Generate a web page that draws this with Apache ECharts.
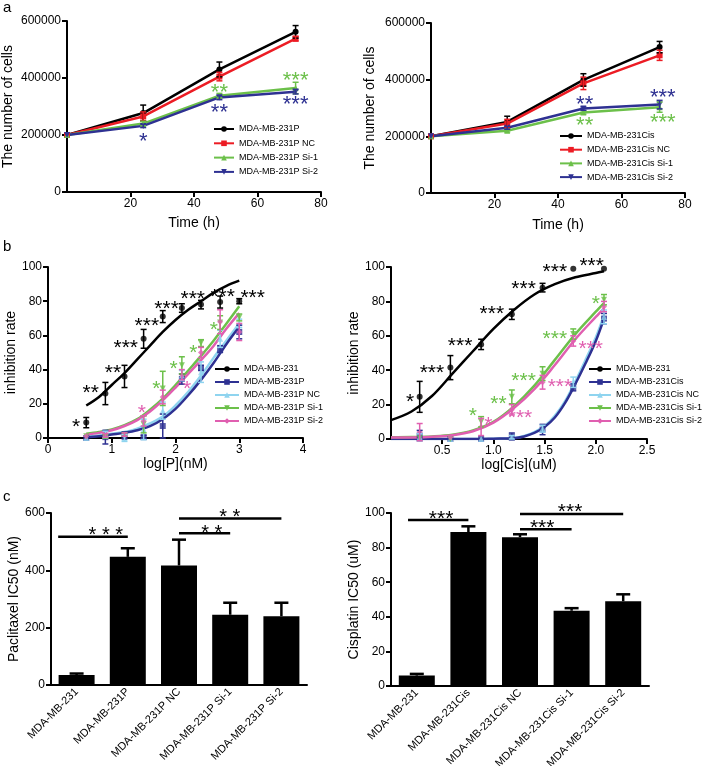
<!DOCTYPE html>
<html><head><meta charset="utf-8">
<script src="https://cdn.jsdelivr.net/npm/echarts@6/dist/echarts.min.js"></script>
<style>html,body{margin:0;padding:0;background:#fff}#c{width:709px;height:766px}</style>
</head><body><div id="c"></div>
<script>
// ---------------- DATA ----------------
// Panel a (left): growth, MDA-MB-231P
const timeH = [0, 24, 48, 72];
const aL_names = ['MDA-MB-231P', 'MDA-MB-231P NC', 'MDA-MB-231P Si-1', 'MDA-MB-231P Si-2'];
const aL_231P   = [200000, 277000, 430000, 562000];
const aL_231P_e = [0, 28000, 26000, 22000];
const aL_NC     = [200000, 265000, 405000, 538000];
const aL_NC_e   = [0, 16000, 15000, 8000];
const aL_Si1    = [200000, 240000, 338000, 365000];
const aL_Si1_e  = [0, 8000, 8000, 20000];
const aL_Si2    = [200000, 232000, 332000, 352000];
const aL_Si2_e  = [0, 6000, 8000, 8000];
const aL_starsG = [[48, 365000, '**'], [72, 407000, '***']];
const aL_starsB = [[24, 193000, '*'], [48, 295000, '**'], [72, 323000, '***']];

// Panel a (right): growth, MDA-MB-231Cis
const aR_names = ['MDA-MB-231Cis', 'MDA-MB-231Cis NC', 'MDA-MB-231Cis Si-1', 'MDA-MB-231Cis Si-2'];
const aR_231C   = [200000, 251000, 399000, 515000];
const aR_231C_e = [0, 20000, 22000, 20000];
const aR_NC     = [200000, 245000, 387000, 486000];
const aR_NC_e   = [0, 15000, 22000, 18000];
const aR_Si1    = [200000, 220000, 284000, 303000];
const aR_Si1_e  = [0, 5000, 6000, 18000];
const aR_Si2    = [200000, 230000, 298000, 312000];
const aR_Si2_e  = [0, 5000, 6000, 15000];
const aR_starsB = [[48.4, 327000, '**'], [73, 353000, '***']];
const aR_starsG = [[48.4, 255000, '**'], [73, 266000, '***']];

// Panel b (left): inhibition vs log[P]
const bL_names = ['MDA-MB-231', 'MDA-MB-231P', 'MDA-MB-231P NC', 'MDA-MB-231P Si-1', 'MDA-MB-231P Si-2'];
const bL_x      = [0.6, 0.9, 1.2, 1.5, 1.8, 2.1, 2.4, 2.7, 3.0];
const bL_231    = [9, 26, 36, 58, 71, 76, 78, 79.5, 80];
const bL_231_e  = [3, 6.5, 6.5, 5.5, 3.5, 2.5, 2.5, 3.5, 1.5];
const bL_231P   = [0, 0.5, 1.5, 0.5, 7, 34.5, 41, 52, 62];
const bL_231P_e = [0, 4, 2, 1, 7, 3, 1.5, 2, 4];
const bL_NC     = [0, 2, 0, 5, 16, 36.5, 38.5, 58, 67];
const bL_NC_e   = [0, 2, 2, 6, 5, 3, 6, 5, 2.5];
const bL_Si1    = [1, 1, 2, 8, 29, 42.5, 55.5, 67.5, 70.5];
const bL_Si1_e  = [0, 1, 1, 5, 10, 5, 2, 4, 2];
const bL_Si2    = [1, 1.5, 2, 10, 24, 37, 50, 68, 62];
const bL_Si2_e  = [0, 1, 1, 3, 4, 3, 3, 7, 5];
const bL_fitX    = [0.6, 0.8, 1.0, 1.2, 1.4, 1.6, 1.8, 2.0, 2.2, 2.4, 2.6, 2.8, 3.0];
const bL_231_fit = [19, 24, 31, 38, 46, 54, 62, 69, 75, 80, 85, 89, 92];
const bL_231P_fit= [0.5, 1, 2, 3, 4.5, 7, 11, 17, 25, 34, 44, 55, 65];
const bL_NC_fit  = [1, 1.5, 2.5, 3.5, 5.5, 8.5, 12.5, 19, 27, 36.5, 47, 57, 67];
const bL_Si1_fit = [2.5, 3.5, 5, 7.5, 11, 16.5, 23, 31, 39.5, 48, 57, 67, 77];
const bL_Si2_fit = [2, 3, 4.5, 7, 10.5, 15.5, 22, 29.5, 37.5, 45.5, 54, 64, 73];
const bL_starsK = [[0.44, 8.8, '*'], [0.67, 29, '**'], [1.02, 40.7, '**'], [1.22, 55.5, '***'], [1.55, 68, '***'],
                   [1.86, 78, '***'], [2.27, 84, '***'], [2.74, 85, '***'], [3.21, 84.5, '***']];
const bL_starsG = [[1.70, 31.5, '*'], [1.97, 43, '*'], [2.28, 52, '*'], [2.6, 65.6, '*']];
const bL_starsP = [[1.47, 17, '*'], [2.18, 31, '*']];

// Panel b (right): inhibition vs log[Cis]
const bR_names = ['MDA-MB-231', 'MDA-MB-231Cis', 'MDA-MB-231Cis NC', 'MDA-MB-231Cis Si-1', 'MDA-MB-231Cis Si-2'];
const bR_x      = [0.28, 0.58, 0.88, 1.18, 1.48, 1.78, 2.08];
const bR_231    = [24.5, 41.5, 55, 72.5, 88, 99, 99];
const bR_231_e  = [9, 7, 3, 3, 2.5, 0, 0];
const bR_Cis    = [2, 0, 0, 1.5, 5.5, 30, 70];
const bR_Cis_e  = [3, 0, 0, 2, 3, 2, 3];
const bR_NC     = [1, 0, 0, 1, 6, 33, 71];
const bR_NC_e   = [2, 0, 0, 1, 2, 3, 4];
const bR_Si1    = [0.5, 0, 10, 24.5, 38, 61, 81];
const bR_Si1_e  = [0, 0, 3, 4, 4, 3, 3];
const bR_Si2    = [4, 1, 7, 17, 33, 57, 77];
const bR_Si2_e  = [5, 0, 5, 3, 4, 3, 3];
const bR_fitX    = [0, 0.2, 0.4, 0.6, 0.8, 1.0, 1.2, 1.4, 1.6, 1.8, 2.0, 2.08];
const bR_231_fit = [11, 16, 25, 38, 51, 64, 75, 84, 90, 94, 96.5, 97.5];
const bR_Si1_fit = [1, 1.1, 1.5, 2.5, 5, 10, 19, 31, 46, 61, 74, 79];
const bR_Si2_fit = [0.8, 0.9, 1.3, 2.2, 4.5, 9.5, 18, 29, 43, 58, 71, 76];
const bR_cisFitX = [0, 0.4, 0.8, 1.0, 1.2, 1.3, 1.4, 1.5, 1.6, 1.7, 1.8, 1.9, 2.0, 2.08];
const bR_Cis_fit = [0, 0, 0, 0.2, 0.5, 1.5, 3.5, 7, 12.5, 21, 32, 44, 57, 70];
const bR_NC_fit  = [0, 0, 0, 0.2, 0.6, 1.7, 4, 7.5, 13.5, 22, 33.5, 46, 59, 72];
const bR_starsK = [[0.186, 24, '*'], [0.40, 41, '***'], [0.675, 56.6, '***'], [0.985, 75, '***'],
                   [1.295, 89.5, '***'], [1.6, 99.8, '***'], [1.96, 103, '***']];
const bR_starsG = [[0.8, 15.9, '*'], [1.05, 22.7, '**'], [1.295, 36, '***'], [1.6, 60.5, '***'], [2.0, 81, '*']];
const bR_starsP = [[0.95, 10.5, '*'], [1.26, 15, '***'], [1.65, 33, '***'], [1.95, 54.7, '***']];

// Panel c (left): Paclitaxel IC50
const cL_cats = ['MDA-MB-231', 'MDA-MB-231P', 'MDA-MB-231P NC', 'MDA-MB-231P Si-1', 'MDA-MB-231P Si-2'];
const cL_vals = [35, 447, 417, 245, 240];
const cL_err  = [5, 30, 90, 42, 47];
const cL_sig  = [[-0.36, 1, 517], [2, 3, 529], [2, 4, 581]];
const cL_sigStars = [[0.57, 537, '* * *'], [2.64, 545, '* *'], [2.99, 599, '* *']];

// Panel c (right): Cisplatin IC50
const cR_cats = ['MDA-MB-231', 'MDA-MB-231Cis', 'MDA-MB-231Cis NC', 'MDA-MB-231Cis Si-1', 'MDA-MB-231Cis Si-2'];
const cR_vals = [6, 89, 86, 43.5, 49];
const cR_err  = [1, 3.3, 1.7, 1.5, 4];
const cR_sig  = [[-0.17, 1, 96], [2, 3, 90.6], [2, 4, 99.4]];
const cR_sigStars = [[0.47, 98.8, '***'], [2.43, 94, '***'], [2.97, 103, '***']];

// ---------------- STYLE ----------------
const COL = {k:'#000000', r:'#ec1c24', g:'#6cc04a', b:'#2e3192', lb:'#8fd4ef', p:'#e05fb0'};
const FONT = '"Liberation Sans", Arial, Helvetica, sans-serif';
const LFONT = '"Liberation Sans Narrow", "Liberation Sans", Arial, sans-serif';
const ZW = ['', '', '\u200b', '\u200b\u200b'];

function pts(xs, ys){ return xs.map((x, i) => [x, ys[i]]); }
function ptsE(xs, ys, es){ return xs.map((x, i) => [x, ys[i], es[i]]); }

function mkAxis(o){
  return {
    type: o.type || 'value', gridIndex: o.gi,
    min: o.min, max: o.max, interval: o.interval, data: o.data,
    name: o.name, nameLocation: 'middle', nameGap: o.nameGap, nameRotate: o.nameRotate,
    nameTextStyle: {color:'#000', fontSize:14, fontFamily:FONT},
    axisLine: {show:true, onZero:false, lineStyle:{color:'#000', width:2}},
    axisTick: {show: o.tick !== false, length:5, lineStyle:{color:'#000', width:2}},
    axisLabel: {show:true, color:'#000', fontSize:o.fontSize || 12, fontFamily:FONT, margin:o.margin || 6,
      showMinLabel: o.showMin, formatter: o.fmt, rotate: o.rotate || 0, interval: 0},
    splitLine: {show:false},
    boundaryGap: o.type === 'category' ? true : undefined
  };
}

function lineS(gi, name, data, color, symbol, rot){
  return {type:'line', name, xAxisIndex:gi, yAxisIndex:gi, data, color,
    symbol, symbolRotate: rot || 0, symbolSize:6, showSymbol:true,
    lineStyle:{color, width:2.5}, itemStyle:{color}, z:3, silent:true};
}
function fitS(gi, name, data, color, symbol, rot, z){
  return {type:'line', name, xAxisIndex:gi, yAxisIndex:gi, data, color, smooth:0.35,
    symbol, symbolRotate: rot || 0, symbolSize:6, showSymbol:false,
    lineStyle:{color, width:2.5}, itemStyle:{color}, z: z || 2, silent:true};
}
function scatS(gi, name, data, color, symbol, rot){
  return {type:'scatter', name: name + ' pts', xAxisIndex:gi, yAxisIndex:gi, data, color,
    symbol, symbolRotate: rot || 0, symbolSize:6, itemStyle:{color}, z:4, silent:true};
}
function errS(gi, data, color, opts){
  opts = opts || {};
  const cap = opts.cap || 3, lw = opts.lw || 1.5, upOnly = !!opts.upOnly;
  return {type:'custom', xAxisIndex:gi, yAxisIndex:gi, z:opts.z || 5, silent:true, clip:false,
    data, encode:{x:0, y:1},
    renderItem(params, api){
      const x = api.value(0), y = api.value(1), e = api.value(2);
      if (!e) return null;
      const t = api.coord([x, y + e]);
      const b = upOnly ? api.coord([x, y]) : api.coord([x, y - e]);
      const st = {stroke:color, lineWidth:lw};
      const ch = [
        {type:'line', shape:{x1:t[0], y1:t[1], x2:b[0], y2:b[1]}, style:st},
        {type:'line', shape:{x1:t[0] - cap, y1:t[1], x2:t[0] + cap, y2:t[1]}, style:st}];
      if (!upOnly) ch.push({type:'line', shape:{x1:b[0] - cap, y1:b[1], x2:b[0] + cap, y2:b[1]}, style:st});
      return {type:'group', children:ch};
    }};
}
function catCoord(api, x, y){
  const r = Math.round(x);
  const p = api.coord([r, y]);
  p[0] += (x - r) * api.size([1, 0])[0];
  return p;
}
function textS(gi, items, color, fs, isCat){
  return {type:'custom', xAxisIndex:gi, yAxisIndex:gi, z:10, silent:true, clip:false,
    data: items.map(d => [isCat ? Math.round(d[0]) : d[0], d[1]]), encode:{x:0, y:1},
    renderItem(params, api){
      const d = items[params.dataIndex];
      const p = isCat ? catCoord(api, d[0], d[1]) : api.coord([d[0], d[1]]);
      return {type:'text', x:p[0], y:p[1] + fs * 0.22,
        style:{text:d[2], fill:color, font: fs + 'px ' + FONT, align:'center', verticalAlign:'middle'}};
    }};
}
function sigS(gi, items){
  return {type:'custom', xAxisIndex:gi, yAxisIndex:gi, z:10, silent:true, clip:false,
    data: items.map(d => [Math.round(d[0]), d[2]]), encode:{x:0, y:1},
    renderItem(params, api){
      const d = items[params.dataIndex];
      const a = catCoord(api, d[0], d[2]), b = catCoord(api, d[1], d[2]);
      return {type:'line', shape:{x1:a[0], y1:a[1], x2:b[0], y2:b[1]}, style:{stroke:'#000', lineWidth:2.5}};
    }};
}
function legendL(names, left, top, itemWidth, gap){
  return {data: names, left, top, orient:'vertical', itemWidth, itemHeight:7, itemGap:gap, padding:0,
    selectedMode:false, formatter: n => n.replace(/\u200b/g, ''),
    textStyle:{fontSize:9, fontFamily:LFONT, color:'#000', lineHeight:10}};
}

// ---------------- OPTION ----------------
const grids = [
  {left:67, top:21, width:254, height:171},
  {left:431, top:23, width:254, height:170},
  {left:48, top:267, width:255, height:171},
  {left:391, top:267, width:256, height:172},
  {left:51, top:513, width:256, height:172},
  {left:391, top:513, width:258, height:173}
].map(g => Object.assign({outerBoundsMode:'none', containLabel:false}, g));

const plain = v => String(v);
const xAxes = [
  mkAxis({gi:0, min:0, max:80, interval:20, name:'Time (h)', nameGap:24, showMin:false}),
  mkAxis({gi:1, min:0, max:80, interval:20, name:'Time (h)', nameGap:25, showMin:false}),
  mkAxis({gi:2, min:0, max:4, interval:1, name:'log[P](nM)', nameGap:18, showMin:true}),
  mkAxis({gi:3, min:0, max:2.5, interval:0.5, name:'log[Cis](uM)', nameGap:16, showMin:false, fmt: v => v.toFixed(1)}),
  mkAxis({gi:4, type:'category', data:cL_cats, tick:false, rotate:45, fontSize:11, margin:5}),
  mkAxis({gi:5, type:'category', data:cR_cats, tick:false, rotate:45, fontSize:11, margin:5})
];
const yAxes = [
  mkAxis({gi:0, min:0, max:600000, interval:200000, name:'The number of cells', nameGap:52, nameRotate:90, fmt:plain, showMin:true}),
  mkAxis({gi:1, min:0, max:600000, interval:200000, name:'The number of cells', nameGap:54, nameRotate:90, fmt:plain, showMin:true}),
  mkAxis({gi:2, min:0, max:100, interval:20, name:'inhibition rate', nameGap:25, nameRotate:90, showMin:true}),
  mkAxis({gi:3, min:0, max:100, interval:20, name:'inhibition rate', nameGap:23, nameRotate:90, showMin:true}),
  mkAxis({gi:4, min:0, max:600, interval:200, name:'Paclitaxel IC50 (nM)', nameGap:26, nameRotate:90, showMin:true}),
  mkAxis({gi:5, min:0, max:100, interval:20, name:'Cisplatin IC50 (uM)', nameGap:26, nameRotate:90, showMin:true})
];

const series = [];
// a left
[[aL_231P, aL_231P_e, COL.k, 'circle', 0], [aL_NC, aL_NC_e, COL.r, 'rect', 0],
 [aL_Si1, aL_Si1_e, COL.g, 'triangle', 0], [aL_Si2, aL_Si2_e, COL.b, 'triangle', 180]].forEach((s, i) => {
  series.push(lineS(0, aL_names[i] + ZW[0], pts(timeH, s[0]), s[2], s[3], s[4]));
  series.push(errS(0, ptsE(timeH, s[0], s[1]), s[2]));
});
series.push(textS(0, aL_starsG, COL.g, 22), textS(0, aL_starsB, COL.b, 22));
// a right
[[aR_231C, aR_231C_e, COL.k, 'circle', 0], [aR_NC, aR_NC_e, COL.r, 'rect', 0],
 [aR_Si1, aR_Si1_e, COL.g, 'triangle', 0], [aR_Si2, aR_Si2_e, COL.b, 'triangle', 180]].forEach((s, i) => {
  series.push(lineS(1, aR_names[i] + ZW[1], pts(timeH, s[0]), s[2], s[3], s[4]));
  series.push(errS(1, ptsE(timeH, s[0], s[1]), s[2]));
});
series.push(textS(1, aR_starsB, COL.b, 22), textS(1, aR_starsG, COL.g, 22));
// b left
[[bL_231, bL_231_e, bL_231_fit, COL.k, 'circle', 0, 2], [bL_231P, bL_231P_e, bL_231P_fit, COL.b, 'rect', 0, 2],
 [bL_NC, bL_NC_e, bL_NC_fit, COL.lb, 'triangle', 0, 1], [bL_Si1, bL_Si1_e, bL_Si1_fit, COL.g, 'triangle', 180, 2],
 [bL_Si2, bL_Si2_e, bL_Si2_fit, COL.p, 'diamond', 0, 2]].forEach((s, i) => {
  const nm = bL_names[i] + ZW[2];
  series.push(fitS(2, nm, pts(bL_fitX, s[2]), s[3], s[4], s[5], s[6]));
  series.push(scatS(2, nm, pts(bL_x, s[0]), s[3], s[4], s[5]));
  series.push(errS(2, ptsE(bL_x, s[0], s[1]), s[3]));
});
series.push(textS(2, bL_starsK, COL.k, 21), textS(2, bL_starsG, COL.g, 21), textS(2, bL_starsP, COL.p, 21));
// b right
[[bR_231, bR_231_e, bR_fitX, bR_231_fit, COL.k, 'circle', 0, 2], [bR_Cis, bR_Cis_e, bR_cisFitX, bR_Cis_fit, COL.b, 'rect', 0, 2],
 [bR_NC, bR_NC_e, bR_cisFitX, bR_NC_fit, COL.lb, 'triangle', 0, 1], [bR_Si1, bR_Si1_e, bR_fitX, bR_Si1_fit, COL.g, 'triangle', 180, 2],
 [bR_Si2, bR_Si2_e, bR_fitX, bR_Si2_fit, COL.p, 'diamond', 0, 2]].forEach((s, i) => {
  const nm = bR_names[i] + ZW[3];
  series.push(fitS(3, nm, pts(s[2], s[3]), s[4], s[5], s[6], s[7]));
  series.push(scatS(3, nm, pts(bR_x, s[0]), s[4], s[5], s[6]));
  series.push(errS(3, ptsE(bR_x, s[0], s[1]), s[4]));
});
series.push(textS(3, bR_starsK, COL.k, 21), textS(3, bR_starsG, COL.g, 21), textS(3, bR_starsP, COL.p, 21));
// c left
series.push({type:'bar', xAxisIndex:4, yAxisIndex:4, data:cL_vals, barWidth:36, itemStyle:{color:'#000'}, silent:true});
series.push(errS(4, cL_vals.map((v, i) => [i, v, cL_err[i]]), '#000', {upOnly:true, cap:7, lw:2.5}));
series.push(sigS(4, cL_sig), textS(4, cL_sigStars, '#000', 20, true));
// c right
series.push({type:'bar', xAxisIndex:5, yAxisIndex:5, data:cR_vals, barWidth:36, itemStyle:{color:'#000'}, silent:true});
series.push(errS(5, cR_vals.map((v, i) => [i, v, cR_err[i]]), '#000', {upOnly:true, cap:7, lw:2.5}));
series.push(sigS(5, cR_sig), textS(5, cR_sigStars, '#000', 21, true));

const option = {
  animation:false, backgroundColor:'#fff',
  grid: grids, xAxis: xAxes, yAxis: yAxes, series,
  legend: [
    legendL(aL_names.map(n => n + ZW[0]), 213, 124, 20, 4.3),
    legendL(aR_names.map(n => n + ZW[1]), 559, 131, 22, 3.7),
    legendL(bL_names.map(n => n + ZW[2]), 214, 364, 24, 3),
    legendL(bR_names.map(n => n + ZW[3]), 588, 364, 22, 3)
  ],
  graphic: [
    {type:'text', left:3, top:0, style:{text:'a', font:'15px ' + FONT, fill:'#000'}},
    {type:'text', left:3, top:239, style:{text:'b', font:'15px ' + FONT, fill:'#000'}},
    {type:'text', left:3, top:489, style:{text:'c', font:'15px ' + FONT, fill:'#000'}}
  ]
};
const chart = echarts.init(document.getElementById('c'), null, {renderer:'canvas'});
chart.setOption(option);
</script></body></html>
